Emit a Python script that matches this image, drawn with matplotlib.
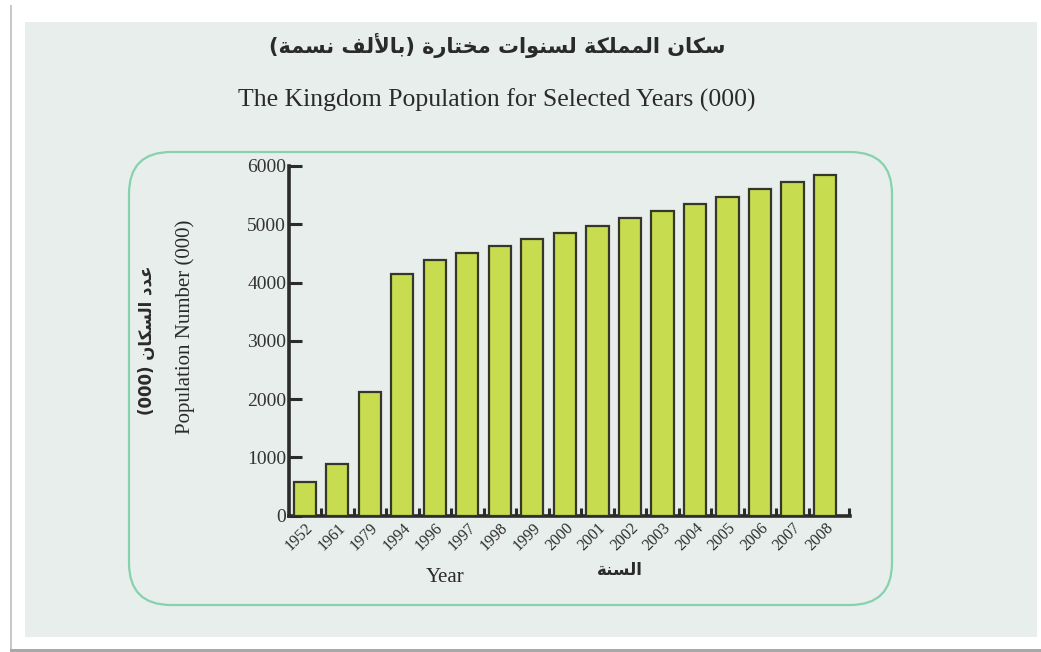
import re
import numpy as np
import matplotlib
matplotlib.use("Agg")
import matplotlib.pyplot as plt
from matplotlib.patches import FancyBboxPatch, Rectangle

# data
years = ["1952", "1961", "1979", "1994", "1996", "1997", "1998", "1999", "2000",
         "2001", "2002", "2003", "2004", "2005", "2006", "2007", "2008"]
population = [570, 890, 2120, 4140, 4390, 4500, 4620, 4740, 4850,
              4970, 5100, 5230, 5340, 5470, 5600, 5720, 5840]
yticks = [0, 1000, 2000, 3000, 4000, 5000, 6000]

title_ar = "سكان المملكة لسنوات مختارة (بالألف نسمة)"
title_en = "The Kingdom Population for Selected Years (000)"
ylabel_ar = "عدد السكان (000)"
ylabel_en = "Population Number (000)"
xlabel_ar = "السنة"
xlabel_en = "Year"

# matplotlib has no arabic shaping, so pick the presentation forms by hand
DUAL = {'ب': 0xFE8F, 'ت': 0xFE95, 'ث': 0xFE99, 'ج': 0xFE9D, 'ح': 0xFEA1, 'خ': 0xFEA5,
        'س': 0xFEB1, 'ش': 0xFEB5, 'ص': 0xFEB9, 'ض': 0xFEBD, 'ط': 0xFEC1, 'ظ': 0xFEC5,
        'ع': 0xFEC9, 'غ': 0xFECD, 'ف': 0xFED1, 'ق': 0xFED5, 'ك': 0xFED9, 'ل': 0xFEDD,
        'م': 0xFEE1, 'ن': 0xFEE5, 'ه': 0xFEE9, 'ي': 0xFEF1}
RIGHT = {'ا': 0xFE8D, 'أ': 0xFE83, 'إ': 0xFE87, 'آ': 0xFE81, 'ة': 0xFE93, 'د': 0xFEA9,
         'ذ': 0xFEAB, 'ر': 0xFEAD, 'ز': 0xFEAF, 'و': 0xFEED, 'ى': 0xFEEF}
LAM_ALEF = {'ا': 0xFEFB, 'أ': 0xFEF7, 'إ': 0xFEF9, 'آ': 0xFEF5}


def shape(s):
    toks = []
    i = 0
    while i < len(s):
        c = s[i]
        if c == 'ل' and i + 1 < len(s) and s[i + 1] in LAM_ALEF:
            toks.append(('r', LAM_ALEF[s[i + 1]]))
            i += 2
            continue
        if c in DUAL:
            toks.append(('d', DUAL[c]))
        elif c in RIGHT:
            toks.append(('r', RIGHT[c]))
        else:
            toks.append(('x', c))
        i += 1
    out = []
    for k, (t, v) in enumerate(toks):
        if t == 'x':
            out.append(v)
            continue
        prev = k > 0 and toks[k - 1][0] == 'd'
        nxt = t == 'd' and k + 1 < len(toks) and toks[k + 1][0] in ('d', 'r')
        if t == 'd':
            off = 3 if (prev and nxt) else 1 if prev else 2 if nxt else 0
        else:
            off = 1 if prev else 0
        out.append(chr(v + off))
    vis = ''.join(out)[::-1].translate(str.maketrans('()', ')('))
    return re.sub(r'[0-9]+', lambda m: m.group(0)[::-1], vis)


W, H = 1041, 652
fig = plt.figure(figsize=(W / 100, H / 100), dpi=100, facecolor="white")
serif = "Liberation Serif"
arab = ["DejaVu Sans"]


def px(x, y):
    return x / W, 1 - y / H


# scanned page background
fig.add_artist(Rectangle((0.25, 0.15), 10.12, 6.15, transform=fig.dpi_scale_trans,
                         facecolor="#e8eeec", edgecolor="none", zorder=0))
fig.add_artist(Rectangle((0.10, 0.02), 0.02, 6.45, transform=fig.dpi_scale_trans,
                         facecolor="#c8c8c8", edgecolor="none", zorder=0))
fig.add_artist(Rectangle((0.10, 0.0), 10.31, 0.03, transform=fig.dpi_scale_trans,
                         facecolor="#a8a8a8", edgecolor="none", zorder=0))
fig.add_artist(FancyBboxPatch((1.29, 0.47), 7.63, 4.53, transform=fig.dpi_scale_trans,
                              boxstyle="round,pad=0,rounding_size=0.42",
                              facecolor="none", edgecolor="#86d2ae", lw=1.6, zorder=1))

ax = fig.add_axes([289 / W, 1 - 515.5 / H, (850 - 289) / W, (515.5 - 166) / H])
ax.patch.set_alpha(0)
x = np.arange(len(years))
ax.bar(x, population, width=0.68, color="#c8dc50", edgecolor="#35372a", linewidth=1.6, zorder=3)

ax.set_xlim(-0.49, len(years) - 0.23)
ax.set_ylim(0, 6000)
for s in ["top", "right"]:
    ax.spines[s].set_visible(False)
for s in ["left", "bottom"]:
    ax.spines[s].set_linewidth(2.6)
    ax.spines[s].set_color("#2b2b2b")

ax.set_yticks(yticks)
ax.set_yticklabels([str(v) for v in yticks], fontfamily=serif, fontsize=14, color="#333333")
ax.tick_params(axis="y", direction="in", length=9, width=2.2, color="#2b2b2b", pad=2)

ax.set_xticks(x)
ax.set_xticklabels(years, fontfamily=serif, fontsize=11.5, color="#2e2e2e",
                   rotation=45, ha="right", va="top", rotation_mode="anchor")
ax.tick_params(axis="x", which="major", length=0, pad=3)
ax.set_xticks(list(x[:-1] + 0.5) + [len(years) - 0.25], minor=True)
ax.tick_params(axis="x", which="minor", direction="in", length=6, width=2.2, color="#2b2b2b")

# titles and axis labels
fig.text(*px(497, 45), shape(title_ar), family=arab, fontsize=15, fontweight="bold",
         color="#2a2a2a", ha="center", va="center")
fig.text(*px(497, 100), title_en, family=serif, fontsize=18.5, color="#2a2a2a",
         ha="center", va="center")
fig.text(*px(185, 327), ylabel_en, family=serif, fontsize=15, color="#2a2a2a",
         rotation=90, ha="center", va="center")
fig.text(*px(147, 340), shape(ylabel_ar), family=arab, fontsize=12, fontweight="bold",
         color="#2a2a2a", rotation=90, ha="center", va="center")
fig.text(*px(445, 577), xlabel_en, family=serif, fontsize=15, color="#2a2a2a",
         ha="center", va="center")
fig.text(*px(620, 570), shape(xlabel_ar), family=arab, fontsize=12, fontweight="bold",
         color="#2a2a2a", ha="center", va="center")

fig.savefig("out.png", dpi=100)
